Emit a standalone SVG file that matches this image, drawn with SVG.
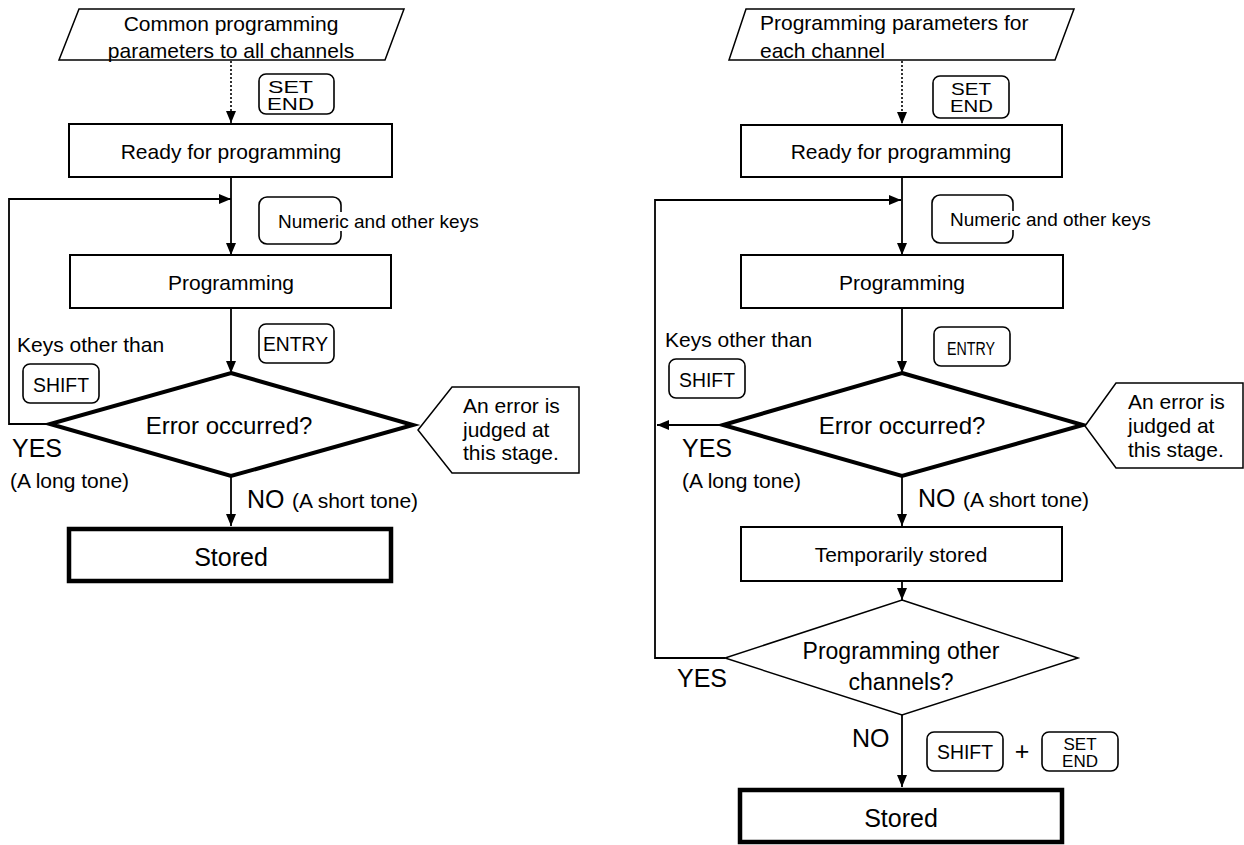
<svg xmlns="http://www.w3.org/2000/svg" width="1244" height="845" viewBox="0 0 1244 845">
<style>
text{font-family:"Liberation Sans",Arial,sans-serif;fill:#000}
.t21{font-size:21px}
.t19{font-size:19px}
.t25{font-size:25px}
.t23{font-size:23px}
.mid{text-anchor:middle}
.box{fill:#fff;stroke:#000;stroke-width:2}
.thick{fill:#fff;stroke:#000;stroke-width:4.5}
.key{fill:#fff;stroke:#000;stroke-width:1.6}
.thin{fill:#fff;stroke:#000;stroke-width:1.5}
.dia{fill:#fff;stroke:#000;stroke-width:4}
.ln{fill:none;stroke:#000;stroke-width:1.8}
.dot{fill:none;stroke:#000;stroke-width:1.6;stroke-dasharray:2 2}
.se{font-size:17px}
</style>
<defs>
<marker id="ah" markerUnits="userSpaceOnUse" markerWidth="12" markerHeight="12" refX="12" refY="6" orient="auto">
<path d="M0,1 L12,6 L0,11 z" fill="#000"/>
</marker>
</defs>

<g id="connectors">
<line class="dot" x1="231" y1="61" x2="231" y2="123" marker-end="url(#ah)"/>
<line class="ln" x1="231" y1="177" x2="231" y2="255" marker-end="url(#ah)"/>
<line class="ln" x1="231" y1="308" x2="231" y2="373" marker-end="url(#ah)"/>
<line class="ln" x1="231" y1="476" x2="231" y2="526" marker-end="url(#ah)"/>
<polyline class="ln" points="50,424 9,424 9,199 231,199" marker-end="url(#ah)"/>
<line class="dot" x1="902" y1="61" x2="902" y2="124" marker-end="url(#ah)"/>
<line class="ln" x1="902" y1="177" x2="902" y2="255" marker-end="url(#ah)"/>
<line class="ln" x1="902" y1="308" x2="902" y2="373" marker-end="url(#ah)"/>
<line class="ln" x1="902" y1="476" x2="902" y2="526" marker-end="url(#ah)"/>
<line class="ln" x1="902" y1="581" x2="902" y2="600" marker-end="url(#ah)"/>
<line class="ln" x1="902" y1="715" x2="902" y2="787" marker-end="url(#ah)"/>
<line class="ln" x1="723" y1="425" x2="657" y2="425" marker-end="url(#ah)"/>
<polyline class="ln" points="725,658 655,658 655,200 901,200" marker-end="url(#ah)"/>
</g>

<g id="L_input">
<polygon class="thin" points="79,9 404,9 385,60 59,60"/>
<text class="t21 mid" x="231" y="31">Common programming</text>
<text class="t21 mid" x="231" y="58">parameters to all channels</text>
</g>
<g id="L_key_setend">
<rect class="key" x="259" y="74" width="75" height="40" rx="7"/>
<text class="se" x="268" y="93" textLength="45" lengthAdjust="spacingAndGlyphs">SET</text>
<text class="se" x="267" y="110" textLength="47" lengthAdjust="spacingAndGlyphs">END</text>
</g>
<g id="L_ready">
<rect class="box" x="69" y="124" width="323" height="53"/>
<text class="t21 mid" x="231" y="159">Ready for programming</text>
</g>
<g id="L_key_numeric">
<rect class="key" x="259" y="197" width="82" height="47" rx="8"/>
<rect x="276" y="212" width="205" height="19" fill="#fff"/>
<text class="t19" x="278" y="228">Numeric and other keys</text>
</g>
<g id="L_programming">
<rect class="box" x="70" y="255" width="321" height="53"/>
<text class="t21 mid" x="231" y="290">Programming</text>
</g>
<g id="L_key_entry">
<rect class="key" x="259" y="324" width="75" height="39" rx="7"/>
<text style="font-size:21px" x="263" y="351" textLength="65" lengthAdjust="spacingAndGlyphs">ENTRY</text>
</g>
<g id="L_keys_other">
<text class="t21" x="17" y="352">Keys other than</text>
<rect class="key" x="23" y="364" width="76" height="39" rx="7"/>
<text style="font-size:21px" x="33" y="392" textLength="56" lengthAdjust="spacingAndGlyphs">SHIFT</text>
</g>
<g id="L_error">
<polygon class="dia" points="231,373 413,425 231,476 50,424"/>
<text class="mid" style="font-size:24px" x="229" y="434">Error occurred?</text>
</g>
<g id="L_callout">
<polygon class="thin" points="418,430 452,387 579,387 579,473 452,473"/>
<text class="t21" x="463" y="413">An error is</text>
<text class="t21" x="463" y="437">judged at</text>
<text class="t21" x="463" y="460">this stage.</text>
</g>
<g id="L_labels">
<text class="t25" x="12" y="457">YES</text>
<text class="t21" x="10" y="488">(A long tone)</text>
<text class="t25" x="247" y="508">NO</text>
<text class="t21" x="292" y="508">(A short tone)</text>
</g>
<g id="L_stored">
<rect class="thick" x="69" y="529" width="322" height="52"/>
<text class="t25 mid" x="231" y="566">Stored</text>
</g>

<g id="R_input">
<polygon class="thin" points="746,9 1074,9 1055,60 729,60"/>
<text class="t21" x="760" y="30">Programming parameters for</text>
<text class="t21" x="760" y="58">each channel</text>
</g>
<g id="R_key_setend">
<rect class="key" x="933" y="76" width="76" height="42" rx="7"/>
<text class="se" x="951" y="95" textLength="40" lengthAdjust="spacingAndGlyphs">SET</text>
<text class="se" x="950" y="112" textLength="43" lengthAdjust="spacingAndGlyphs">END</text>
</g>
<g id="R_ready">
<rect class="box" x="741" y="125" width="321" height="52"/>
<text class="t21 mid" x="901" y="159">Ready for programming</text>
</g>
<g id="R_key_numeric">
<rect class="key" x="932" y="195" width="81" height="48" rx="8"/>
<rect x="948" y="211" width="205" height="19" fill="#fff"/>
<text class="t19" x="950" y="226">Numeric and other keys</text>
</g>
<g id="R_programming">
<rect class="box" x="741" y="255" width="322" height="53"/>
<text class="t21 mid" x="902" y="290">Programming</text>
</g>
<g id="R_key_entry">
<rect class="key" x="934" y="327" width="76" height="39" rx="7"/>
<text style="font-size:18px" x="947" y="355" textLength="48" lengthAdjust="spacingAndGlyphs">ENTRY</text>
</g>
<g id="R_keys_other">
<text class="t21" x="665" y="347">Keys other than</text>
<rect class="key" x="669" y="359" width="76" height="39" rx="7"/>
<text style="font-size:21px" x="679" y="387" textLength="56" lengthAdjust="spacingAndGlyphs">SHIFT</text>
</g>
<g id="R_error">
<polygon class="dia" points="902,373 1083,425 902,476 723,425"/>
<text class="mid" style="font-size:24px" x="902" y="434">Error occurred?</text>
</g>
<g id="R_callout">
<polygon class="thin" points="1085,426 1116,383 1243,383 1243,468 1116,468"/>
<text class="t21" x="1128" y="409">An error is</text>
<text class="t21" x="1128" y="433">judged at</text>
<text class="t21" x="1128" y="457">this stage.</text>
</g>
<g id="R_labels1">
<text class="t25" x="682" y="457">YES</text>
<text class="t21" x="682" y="488">(A long tone)</text>
<text class="t25" x="918" y="507">NO</text>
<text class="t21" x="963" y="507">(A short tone)</text>
</g>
<g id="R_temp">
<rect class="box" x="741" y="527" width="321" height="54"/>
<text class="t21 mid" x="901" y="562">Temporarily stored</text>
</g>
<g id="R_other">
<polygon points="902,600 1078,658 902,715 725,658" fill="#fff" stroke="#000" stroke-width="1.5"/>
<text class="t23 mid" x="901" y="659">Programming other</text>
<text class="t23 mid" x="901" y="690">channels?</text>
</g>
<g id="R_labels2">
<text class="t25" x="677" y="687">YES</text>
<text class="t25" x="852" y="747">NO</text>
</g>
<g id="R_keys_bottom">
<rect class="key" x="927" y="732" width="76" height="39" rx="7"/>
<text style="font-size:20px" x="937" y="759" textLength="56" lengthAdjust="spacingAndGlyphs">SHIFT</text>
<text class="t25 mid" x="1022" y="760">+</text>
<rect class="key" x="1042" y="732" width="76" height="39" rx="7"/>
<text class="mid se" x="1080" y="750">SET</text>
<text class="mid se" x="1080" y="767">END</text>
</g>
<g id="R_stored">
<rect class="thick" x="740" y="790" width="322" height="52"/>
<text class="t25 mid" x="901" y="827">Stored</text>
</g>
</svg>
